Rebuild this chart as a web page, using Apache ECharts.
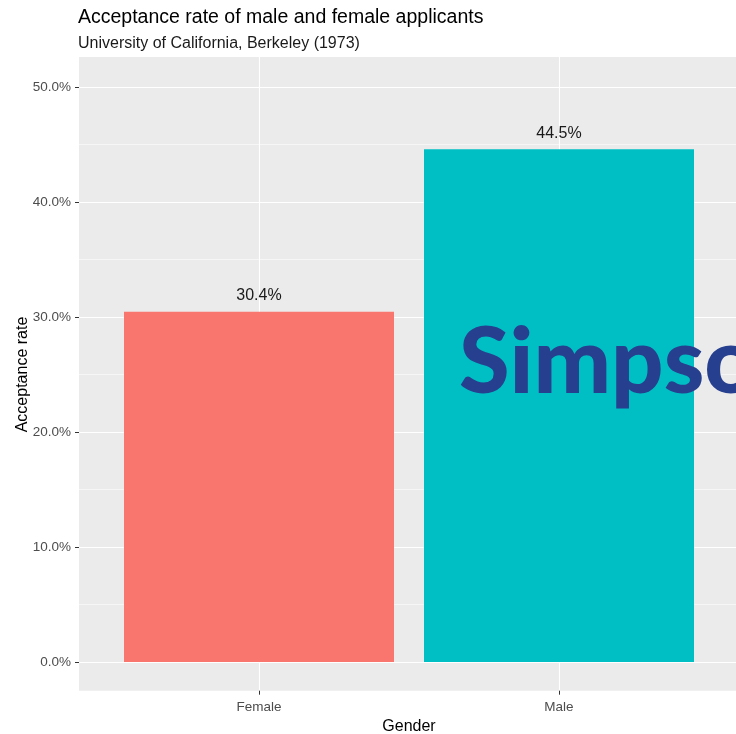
<!DOCTYPE html>
<html>
<head>
<meta charset="utf-8">
<script src="https://cdn.jsdelivr.net/npm/echarts@6/dist/echarts.min.js"></script>
<style>html,body{margin:0;padding:0;background:#fff}#c{width:736px;height:734px}</style>
</head>
<body>
<div id="c"></div>
<script>
const categories = ['Female', 'Male'];
const acceptance = [30.4, 44.5];
const barColors = ['#F8766D', '#00BFC4'];
const yTicks = [0, 10, 20, 30, 40, 50];

const chart = echarts.init(document.getElementById('c'));
const FONT = 'Liberation Sans, Arial, sans-serif';
chart.setOption({
  animation: false,
  backgroundColor: '#ffffff',
  textStyle: { fontFamily: FONT },
  title: {
    text: 'Acceptance rate of male and female applicants',
    subtext: 'University of California, Berkeley (1973)',
    left: 73, top: 3, itemGap: 8,
    textStyle: { fontFamily: FONT, fontSize: 19.5, fontWeight: 'normal', color: '#000' },
    subtextStyle: { fontFamily: FONT, fontSize: 16, color: '#1a1a1a' }
  },
  graphic: [
    { type: 'rect', z: -10, silent: true, shape: { x: 79, y: 57, width: 660, height: 633.7 }, style: { fill: '#EBEBEB' } },
    { type: 'text', z: 100, silent: true, left: 459, top: 317,
      style: { text: "Simpson's Paradox", fontFamily: 'Lato, sans-serif', fontWeight: 900, fontSize: 92, fill: '#263F8E' } }
  ],
  grid: [
    { left: 79, width: 660, top: 87, bottom: 72, outerBoundsMode: 'none' },
    { left: 259, width: 300, top: 57, bottom: 43.3, outerBoundsMode: 'none' }
  ],
  xAxis: [
    { gridIndex: 0, type: 'value', show: false, min: 0, max: 1 },
    { gridIndex: 1, type: 'category', data: categories, boundaryGap: false,
      name: 'Gender', nameLocation: 'middle', nameGap: 28, nameMoveOverlap: false,
      nameTextStyle: { fontFamily: FONT, fontSize: 16, color: '#000' },
      axisLine: { show: false, onZero: false },
      axisTick: { show: true, length: 4, lineStyle: { color: '#333', width: 1 } },
      axisLabel: { margin: 10, fontSize: 13.5, color: '#4D4D4D', fontFamily: FONT },
      splitLine: { show: true, lineStyle: { color: '#fff', width: 1.1 } } }
  ],
  yAxis: [
    { gridIndex: 0, type: 'value', min: 0, max: 50, interval: 10,
      name: 'Acceptance rate', nameLocation: 'middle', nameGap: 48, nameMoveOverlap: false,
      nameTextStyle: { fontFamily: FONT, fontSize: 16, color: '#000' },
      axisLine: { show: false, onZero: false },
      axisTick: { show: true, length: 4, lineStyle: { color: '#333', width: 1 } },
      axisLabel: { margin: 8, fontSize: 13.5, color: '#4D4D4D', fontFamily: FONT,
        formatter: v => yTicks.includes(v) ? v.toFixed(1) + '%' : '' },
      splitLine: { show: true, lineStyle: { color: '#fff', width: 1.1 } },
      minorTick: { show: false, splitNumber: 2 },
      minorSplitLine: { show: true, lineStyle: { color: '#fff', width: 0.55 } } },
    { gridIndex: 1, type: 'value', min: -2.5, max: 52.5, show: false, splitLine: { show: false } }
  ],
  series: [{
    type: 'bar', xAxisIndex: 1, yAxisIndex: 1, clip: false, barWidth: 270, z: 5,
    data: acceptance.map((v, i) => ({ value: v, itemStyle: { color: barColors[i] } })),
    label: { show: true, position: 'top', distance: 8, fontFamily: FONT, fontSize: 16, color: '#1a1a1a',
      formatter: p => p.value.toFixed(1) + '%' }
  }]
});
</script>
</body>
</html>
